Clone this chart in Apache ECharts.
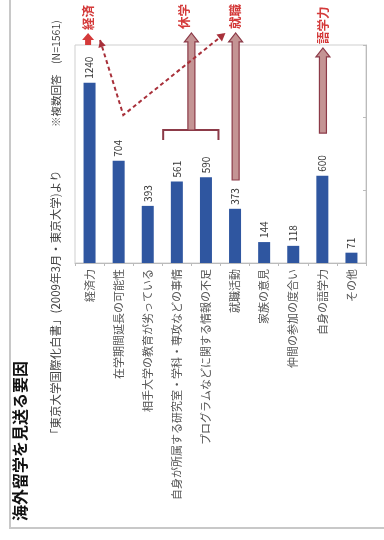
<!DOCTYPE html>
<html><head><meta charset="utf-8">
<script src="https://cdn.jsdelivr.net/npm/echarts@6/dist/echarts.min.js"></script>
<style>html,body{margin:0;padding:0;background:#fff}#c{width:384px;height:540px}</style>
</head><body><div id="c"></div>
<script>
const categories = ['経済力','在学期間延長の可能性','相手大学の教育が劣っている','自身が所属する研究室・学科・専攻などの事情','プログラムなどに関する情報の不足','就職活動','家族の意見','仲間の参加の度合い','自身の語学力','その他'];
const values = [1240,704,393,561,590,373,144,118,600,71];
const valueTicks = [0,500,1000,1500];
const titleText = '海外留学を見送る要因';
const subtitleText = '「東京大学国際化白書」(2009年3月・東京大学)より';
const noteText = '※複数回答　(N=1561)';
const annoTexts = ['経済','休学','就職','語学力'];

const FONT = '"Noto Sans CJK JP", "Noto Sans", sans-serif';
const chart = echarts.init(document.getElementById('c'), null, {renderer:'canvas'});
chart.setOption({
  animation:false,
  backgroundColor:'#fff',
  textStyle:{fontFamily:FONT},
  grid:{left:75,right:18,top:45,bottom:277,show:true,borderColor:'#cfcfcf',borderWidth:1},
  xAxis:{type:'category',data:categories,
    axisLine:{lineStyle:{color:'#bbb'}},
    axisTick:{show:true,lineStyle:{color:'#bbb'},length:3},
    axisLabel:{rotate:90,fontSize:11,color:'#555',margin:6,interval:0,fontFamily:FONT}},
  yAxis:{type:'value',position:'right',min:valueTicks[0],max:valueTicks[valueTicks.length-1],interval:500,
    axisLine:{show:true,lineStyle:{color:'#bbb'}},
    axisTick:{show:true,inside:true,length:3,lineStyle:{color:'#bbb'}},
    axisLabel:{show:false},splitLine:{show:false}},
  series:[{type:'bar',data:values,barWidth:12,itemStyle:{color:'#2f56a0'},
    label:{show:true,position:'top',rotate:90,align:'left',verticalAlign:'middle',distance:4,fontSize:10,color:'#333',fontFamily:FONT}}]
});

function P(i,v){ // data -> pixel with fractional category
  const a = chart.convertToPixel({gridIndex:0},[0,v]);
  const b = chart.convertToPixel({gridIndex:0},[1,v]);
  return [a[0]+(b[0]-a[0])*i, a[1]];
}
function arrow(x,yb,yt,fill,stroke){
  const sw=3.5,hw=7,hl=9;
  return {type:'polygon',shape:{points:[[x-sw,yb],[x-sw,yt+hl],[x-hw,yt+hl],[x,yt],[x+hw,yt+hl],[x+sw,yt+hl],[x+sw,yb]]},
    style:{fill:fill,stroke:stroke,lineWidth:1.2},z:10};
}
function vtext(x,y,txt,size,color,bold){
  return {type:'text',x:x,y:y,rotation:Math.PI/2,
    style:{text:txt,fontSize:size,fontFamily:FONT,fill:color,fontWeight:bold?'bold':'normal',align:'left',verticalAlign:'middle'},z:20};
}
function tri(tip,from,size,color){
  const dx=tip[0]-from[0],dy=tip[1]-from[1],L=Math.hypot(dx,dy),ux=dx/L,uy=dy/L;
  const bx=tip[0]-ux*size,by=tip[1]-uy*size;
  return {type:'polygon',shape:{points:[tip,[bx-uy*size*0.55,by+ux*size*0.55],[bx+uy*size*0.55,by-ux*size*0.55]]},style:{fill:color},z:12};
}
const AF='#c49494', AS='#8c3a48', RED='#d43a3a', DR='#a8303a';
const g=[];
// outer frame
g.push({type:'polyline',shape:{points:[[10,0],[10,528],[384,528]]},style:{stroke:'#c8c8c8',lineWidth:2,fill:null},z:1});
// title / subtitle / note
g.push(vtext(20,521,titleText,16,'#111',true));
g.push(vtext(56,440,subtitleText,11.5,'#444',false));
g.push(vtext(56,127,noteText,10.5,'#444',false));
// 経済 arrowhead
let p1=P(-0.05,1500), p2=P(-0.05,1583);
g.push({type:'polygon',shape:{points:[[p1[0]-3,p1[1]],[p1[0]-3,p2[1]+7],[p1[0]-6,p2[1]+7],[p2[0],p2[1]],[p1[0]+6,p2[1]+7],[p1[0]+3,p2[1]+7],[p1[0]+3,p1[1]]]},style:{fill:RED},z:12});
g.push(vtext(p2[0],p2[1]-3,annoTexts[0],12.5,RED,true));
// dashed line
const d0=P(0.36,1534), d1=P(1.16,1018), d2=P(4.67,1583);
g.push({type:'polyline',shape:{points:[d0,d1,d2]},style:{stroke:DR,lineWidth:2,lineDash:[4,3],fill:null},z:11});
g.push(tri(d2,d1,8,DR));
g.push(tri(d0,d1,7,DR));
// bracket + 休学 arrow
const b0=P(2.53,846), b1=P(2.53,915), b2=P(4.43,915), b3=P(4.43,846);
g.push({type:'polyline',shape:{points:[b0,b1,b2,b3]},style:{stroke:AS,lineWidth:2,fill:null},z:10});
let a0=P(3.5,915), a1=P(3.5,1583);
g.push(arrow(a0[0],a0[1],a1[1],AF,AS));
g.push(vtext(P(3.25,0)[0],a1[1]-4,annoTexts[1],12.5,RED,true));
// 就職 arrow
a0=P(5.02,571); a1=P(5.02,1583);
g.push(arrow(a0[0],a0[1],a1[1],AF,AS));
g.push(vtext(a1[0],a1[1]-4,annoTexts[2],12.5,RED,true));
// 語学力 arrow
a0=P(8.02,894); a1=P(8.02,1480);
g.push(arrow(a0[0],a0[1],a1[1],AF,AS));
g.push(vtext(a1[0],a1[1]-4,annoTexts[3],12.5,RED,true));
chart.setOption({graphic:g});
</script></body></html>
